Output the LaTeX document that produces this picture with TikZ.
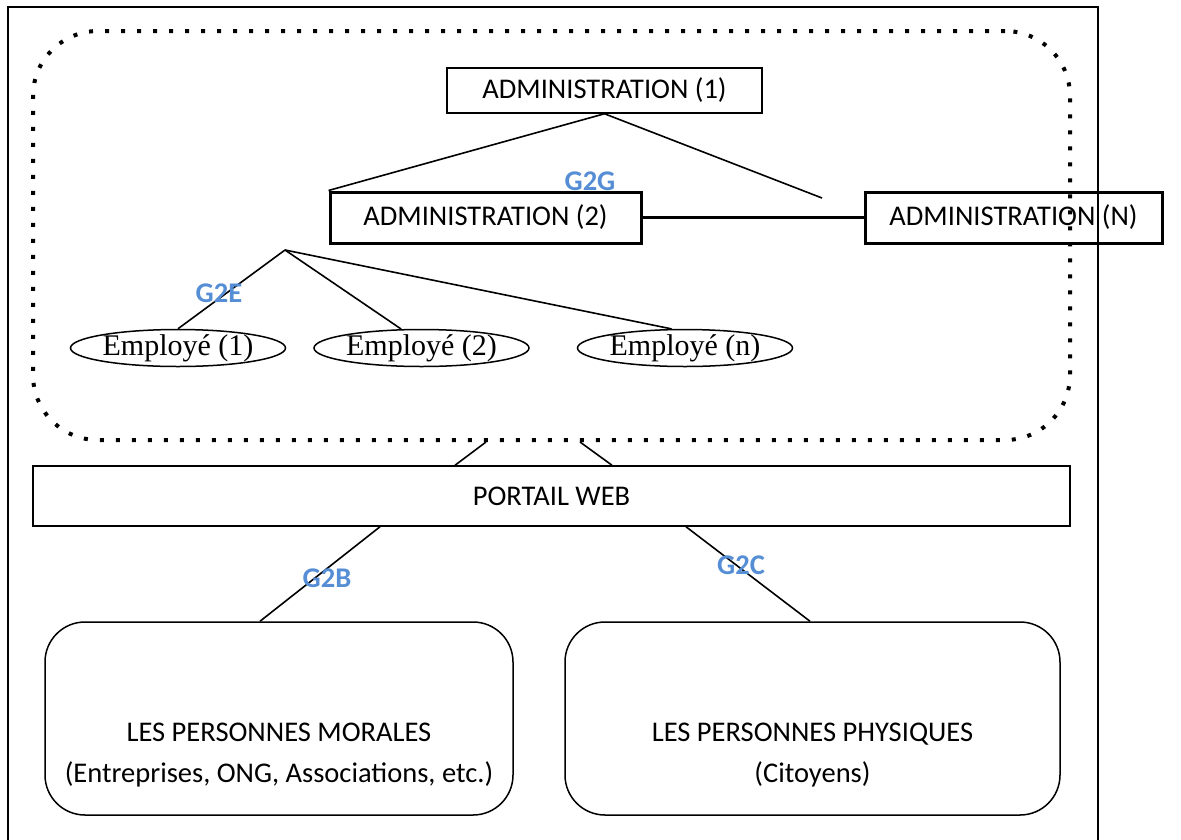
\documentclass[tikz,border=0pt]{standalone}
\usepackage{fontspec}
\setmainfont{Carlito}
\newfontfamily\timesfont{Liberation Serif}
\usetikzlibrary{shapes.geometric,calc}
\definecolor{labelblue}{RGB}{85,142,213}
\tikzset{
  txt/.style={font=\fontsize{28.5}{41}\selectfont},
  adminbox/.style={draw, rectangle, inner sep=0pt, txt},
  thinbox/.style={adminbox, line width=1.5pt},
  thickbox/.style={adminbox, line width=3pt},
  empl/.style={draw, ellipse, line width=1.5pt, inner sep=0pt,
    minimum width=215pt, minimum height=37pt},
  empltxt/.style={inner sep=0pt, font=\timesfont\fontsize{30}{34}\selectfont},
  roundbox/.style={draw, rectangle, rounded corners=40pt, line width=1.5pt,
    minimum width=#1, minimum height=193pt, inner sep=0pt},
  group/.style={draw, rectangle, rounded corners=65pt, line width=4pt,
    dash pattern=on 4pt off 12pt, minimum width=1037pt, minimum height=409pt,
    inner sep=0pt},
  link/.style={draw, line width=1.6pt},
  tag/.style={text=labelblue, font=\bfseries\fontsize{28.5}{34}\selectfont,
    inner sep=0pt},
}
\begin{document}
\begin{tikzpicture}[x=1pt, y=-1pt]
\useasboundingbox (0,0) rectangle (1181,839);
\fill[white] (0,0) rectangle (1181,839);

% outer frame, open towards the bottom edge
\draw[line width=2pt] (8,850) -- (8,7) -- (1098,7) -- (1098,850);

% dotted group of the administration side
\node[group] (grp) at (551.5,235.5) {};

% administrations
\node[thinbox, minimum width=315pt, minimum height=45pt] (adm1) at (604.5,90.5) {ADMINISTRATION (1)};
\node[thickbox, minimum width=311pt, minimum height=51pt] (adm2) at (485.5,217.5) {ADMINISTRATION (2)};
\node[thickbox, minimum width=297pt, minimum height=51pt] (admn) at (1013.5,217.5) {ADMINISTRATION (N)};
\coordinate (admfree) at (822,198);

\draw[link] (adm1.south) -- (adm2.north west);
\draw[link] (adm1.south) -- (admfree);
\draw[line width=2.5pt] (adm2.east) -- (admn.west);
\node[tag] (g2g) at (590,181) {G2G};

% employees
\coordinate (emproot) at (285,250);
\node[empl] (e1) at (178,348) {};
\node[empl] (e2) at (421.5,348) {};
\node[empl] (en) at (685,348) {};
\node[empltxt] (e1txt) at (e1.center) {Employé (1)};
\node[empltxt] (e2txt) at (e2.center) {Employé (2)};
\node[empltxt] (entxt) at (en.center) {Employé (n)};
\draw[link] (emproot) -- (e1.north);
\draw[link] (emproot) -- (e2.137);
\draw[link] (emproot) -- (en.125);
\node[tag] (g2e) at (219,293) {G2E};

% web portal
\node[draw, rectangle, line width=1.5pt, inner sep=0pt, txt,
      minimum width=1037pt, minimum height=60pt] (portal) at (551.5,496) {PORTAIL WEB};
\draw[link] ($(grp.south)+(-65.5,0)$) -- ($(portal.north)+(-96.5,0)$);
\draw[link] ($(grp.south)+(28.5,0)$) -- ($(portal.north)+(60.5,0)$);

% legal and natural persons
\node[roundbox=468pt] (mor) at (279,718.5) {};
\node[roundbox=495pt] (phy) at (812.5,718.5) {};
\node[txt, align=center, inner sep=0pt] (mortxt) at (279,755.5)
  {LES PERSONNES MORALES\\(Entreprises, ONG, Associations, etc.)};
\node[txt, align=center, inner sep=0pt] (phytxt) at (812.5,755.5)
  {LES PERSONNES PHYSIQUES\\(Citoyens)};

\draw[link] ($(portal.south)+(-171.5,0)$) -- ($(mor.north)+(-19,0)$);
\draw[link] ($(portal.south)+(134.5,0)$) -- ($(phy.north)+(-2.5,0)$);
\node[tag] (g2b) at (327,578) {G2B};
\node[tag] (g2c) at (741,565) {G2C};
\end{tikzpicture}
\end{document}
